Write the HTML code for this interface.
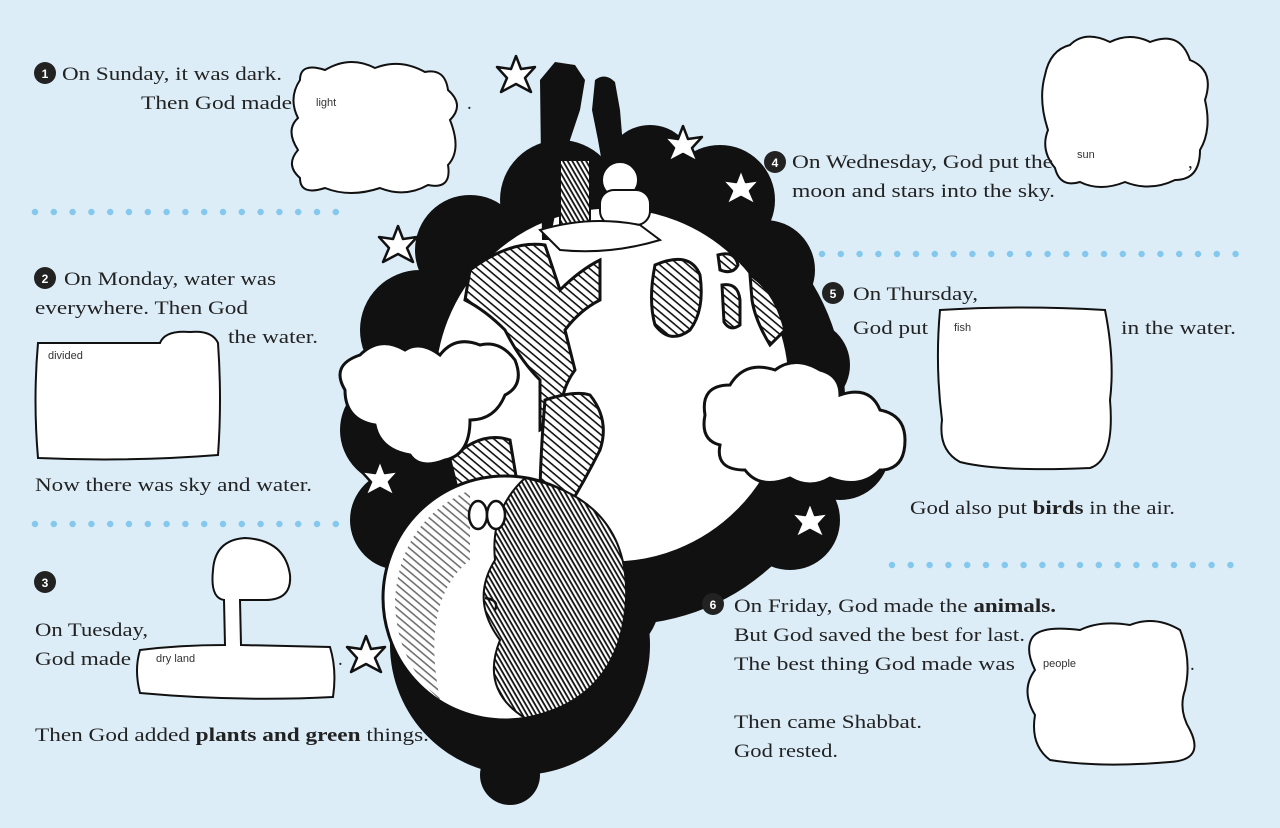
<!DOCTYPE html>
<html><head><meta charset="utf-8"><style>
html,body{margin:0;padding:0;background:#dcedf8;}
svg{display:block}
text{font-family:"Liberation Serif",serif;fill:#222;}
.s{font-family:"Liberation Sans",sans-serif;font-size:11px;fill:#333}
</style></head><body>
<svg width="1280" height="828" viewBox="0 0 1280 828" xmlns="http://www.w3.org/2000/svg">
<defs>
<pattern id="h" width="6" height="6" patternUnits="userSpaceOnUse" patternTransform="rotate(40)"><rect width="6" height="6" fill="#fff"/><rect width="6" height="1.6" fill="#111"/></pattern>
<pattern id="hd" width="4" height="4" patternUnits="userSpaceOnUse" patternTransform="rotate(60)"><rect width="4" height="4" fill="#fff"/><rect width="4" height="1.8" fill="#111"/></pattern>
<g id="star"><polygon points="0,-20 5,-7 19,-9 9,2 15,16 0,8 -15,16 -9,2 -19,-9 -5,-7" fill="#fff" stroke="#111" stroke-width="2.5" stroke-linejoin="round"/></g>
<g id="num"><circle r="11" fill="#222"/></g>
</defs>
<rect width="1280" height="828" fill="#dcedf8"/>

<line x1="35" y1="212" x2="340" y2="212" stroke="#85c8ee" stroke-width="6.5" stroke-linecap="round" stroke-dasharray="0 18.8"/>
<line x1="35" y1="524" x2="340" y2="524" stroke="#85c8ee" stroke-width="6.5" stroke-linecap="round" stroke-dasharray="0 18.8"/>
<line x1="822" y1="254" x2="1245" y2="254" stroke="#85c8ee" stroke-width="6.5" stroke-linecap="round" stroke-dasharray="0 18.8"/>
<line x1="892" y1="565" x2="1245" y2="565" stroke="#85c8ee" stroke-width="6.5" stroke-linecap="round" stroke-dasharray="0 18.8"/>

<g fill="#111">
<circle cx="560" cy="200" r="60"/><circle cx="650" cy="170" r="45"/><circle cx="720" cy="200" r="55"/>
<circle cx="470" cy="250" r="55"/><circle cx="765" cy="270" r="50"/><circle cx="420" cy="330" r="60"/>
<circle cx="805" cy="365" r="45"/><circle cx="395" cy="430" r="55"/><circle cx="840" cy="450" r="50"/>
<circle cx="400" cy="520" r="50"/><circle cx="790" cy="520" r="50"/>
<circle cx="620" cy="400" r="225"/><circle cx="520" cy="645" r="130"/><circle cx="600" cy="600" r="60"/>
<circle cx="510" cy="775" r="30"/>
</g>

<circle cx="612" cy="385" r="178" fill="#fff" stroke="#111" stroke-width="3"/>
<path d="M470 270 Q510 240 545 245 L560 290 Q580 270 600 260 L600 300 Q580 310 565 330 L575 370 Q560 390 560 420 L540 430 L540 380 Q520 360 505 330 Q485 310 465 300 Z" fill="url(#h)" stroke="#111" stroke-width="3"/>
<path d="M545 400 Q575 390 590 395 Q610 420 600 450 Q580 490 560 520 L540 500 Q540 460 545 400 Z" fill="url(#h)" stroke="#111" stroke-width="3"/>
<path d="M655 265 Q690 250 700 275 Q705 310 690 330 Q670 345 655 325 Q648 300 655 265 Z" fill="url(#h)" stroke="#111" stroke-width="3"/>
<path d="M718 255 Q735 250 738 265 Q733 275 720 270 Z M722 285 Q738 282 740 300 L740 325 Q730 332 724 322 Z" fill="url(#h)" stroke="#111" stroke-width="3"/>
<path d="M750 275 Q775 290 785 330 L770 345 Q755 320 752 300 Z" fill="url(#h)" stroke="#111" stroke-width="3"/>
<path d="M450 460 Q480 430 510 440 L520 500 Q490 500 460 500 Z" fill="url(#h)" stroke="#111" stroke-width="3"/>

<path d="M345 390 Q330 365 360 355 Q380 335 405 350 Q420 340 440 355 Q455 335 480 345 Q500 340 515 360 Q525 385 505 395 Q495 420 470 420 Q470 455 445 460 Q420 470 410 455 Q380 450 375 425 Q345 420 345 390 Z" fill="#fff" stroke="#111" stroke-width="3"/>
<path d="M705 415 Q700 385 730 385 Q745 360 775 370 Q795 355 820 370 Q840 375 840 395 Q870 385 880 410 Q905 415 905 440 Q905 470 880 470 Q860 490 830 478 Q810 490 790 478 Q760 490 745 470 Q715 470 720 445 Q700 440 705 415 Z" fill="#fff" stroke="#111" stroke-width="3"/>

<g fill="#111">
<path d="M540 80 L555 62 L575 65 L585 80 L580 110 L570 140 L560 190 L550 240 L542 240 Z"/>
<path d="M595 80 Q605 72 615 82 L620 110 L625 170 L605 180 L598 140 L592 110 Z"/>
<rect x="560" y="160" width="30" height="80" fill="url(#hd)" stroke="#111" stroke-width="2"/>
<circle cx="620" cy="180" r="18" fill="#fff" stroke="#111" stroke-width="2"/>
<rect x="600" y="190" width="50" height="35" rx="14" fill="#fff" stroke="#111" stroke-width="2"/>
</g>
<path d="M540 230 Q590 215 640 225 L660 240 Q610 255 560 250 Z" fill="#fff" stroke="#111" stroke-width="2"/>

<circle cx="505" cy="598" r="122" fill="#fff" stroke="#111" stroke-width="3"/>
<path d="M525 478 Q630 500 626 600 Q620 700 525 718 Q480 690 500 640 Q470 600 495 560 Q490 510 525 478 Z" fill="url(#hd)" stroke="#111" stroke-width="2"/>
<path d="M395 600 Q400 520 470 490 L470 560 Q420 600 440 700 Q395 660 395 600 Z" fill="url(#h)" opacity="0.6"/>
<ellipse cx="478" cy="515" rx="9" ry="14" fill="#fff" stroke="#111" stroke-width="2.5"/>
<ellipse cx="496" cy="515" rx="9" ry="14" fill="#fff" stroke="#111" stroke-width="2.5"/>
<path d="M485 598 Q500 600 495 610" fill="none" stroke="#111" stroke-width="2.5"/>

<use href="#star" transform="translate(516,76)"/>
<use href="#star" transform="translate(398,246)"/>
<use href="#star" transform="translate(683,146)"/>
<use href="#star" transform="translate(741,189)"/>
<use href="#star" transform="translate(380,480)"/>
<use href="#star" transform="translate(810,522)"/>
<use href="#star" transform="translate(366,656)"/>

<path d="M300 80 Q300 62 325 70 Q350 55 375 68 Q400 58 425 72 Q445 68 448 90 Q465 105 450 120 Q462 150 448 165 Q452 190 428 185 Q405 198 380 188 Q350 198 325 188 Q300 196 300 178 Q285 165 298 150 Q285 130 298 118 Q288 98 300 80 Z" fill="#fff" stroke="#111" stroke-width="2"/>
<path d="M1045 75 Q1050 50 1070 45 Q1085 30 1110 42 Q1130 32 1150 42 Q1180 30 1190 60 Q1215 70 1205 100 Q1212 130 1200 150 Q1200 180 1175 180 Q1150 192 1125 182 Q1100 192 1080 182 Q1060 188 1055 168 Q1040 150 1048 130 Q1038 100 1045 75 Z" fill="#fff" stroke="#111" stroke-width="2"/>
<path d="M38 343 L160 343 Q165 330 190 332 Q212 330 218 343 Q222 400 218 455 Q130 462 38 458 Q33 400 38 343 Z" fill="#fff" stroke="#111" stroke-width="2"/>
<path d="M225 645 L224 600 Q210 598 213 570 Q215 540 245 538 Q285 540 290 575 Q292 600 265 600 L240 600 L241 645 L330 647 Q337 670 333 697 Q240 702 140 693 Q134 670 140 650 Q180 645 225 645 Z" fill="#fff" stroke="#111" stroke-width="2"/>
<path d="M940 310 Q1020 305 1105 310 Q1115 360 1110 400 Q1115 460 1090 468 Q1000 472 960 462 Q938 450 942 420 Q935 365 940 310 Z" fill="#fff" stroke="#111" stroke-width="2"/>
<path d="M1032 638 Q1040 625 1080 630 Q1100 620 1130 625 Q1155 615 1180 630 Q1192 660 1185 690 Q1178 710 1190 730 Q1205 760 1170 762 Q1100 768 1050 760 Q1030 745 1035 715 Q1020 690 1035 670 Q1025 650 1032 638 Z" fill="#fff" stroke="#111" stroke-width="2"/>

<text class="s" x="316" y="106">light</text>
<text class="s" x="1077" y="158">sun</text>
<text class="s" x="48" y="359">divided</text>
<text class="s" x="156" y="662">dry land</text>
<text class="s" x="954" y="331">fish</text>
<text class="s" x="1043" y="667">people</text>

<use href="#num" transform="translate(45,73)"/><text x="45" y="78" font-size="12" font-weight="bold" text-anchor="middle" style="fill:#fff;font-family:'Liberation Sans'">1</text>
<use href="#num" transform="translate(45,278)"/><text x="45" y="283" font-size="12" font-weight="bold" text-anchor="middle" style="fill:#fff;font-family:'Liberation Sans'">2</text>
<use href="#num" transform="translate(45,582)"/><text x="45" y="587" font-size="12" font-weight="bold" text-anchor="middle" style="fill:#fff;font-family:'Liberation Sans'">3</text>
<use href="#num" transform="translate(775,162)"/><text x="775" y="167" font-size="12" font-weight="bold" text-anchor="middle" style="fill:#fff;font-family:'Liberation Sans'">4</text>
<use href="#num" transform="translate(833,293)"/><text x="833" y="298" font-size="12" font-weight="bold" text-anchor="middle" style="fill:#fff;font-family:'Liberation Sans'">5</text>
<use href="#num" transform="translate(713,604)"/><text x="713" y="609" font-size="12" font-weight="bold" text-anchor="middle" style="fill:#fff;font-family:'Liberation Sans'">6</text>

<g font-size="19">
<text x="62" y="80" textLength="220" lengthAdjust="spacingAndGlyphs">On Sunday, it was dark.</text>
<text x="141" y="109" textLength="151" lengthAdjust="spacingAndGlyphs">Then God made</text>
<text x="467" y="109">.</text>
<text x="64" y="285" textLength="212" lengthAdjust="spacingAndGlyphs">On Monday, water was</text>
<text x="35" y="314" textLength="213" lengthAdjust="spacingAndGlyphs">everywhere. Then God</text>
<text x="228" y="343" textLength="90" lengthAdjust="spacingAndGlyphs">the water.</text>
<text x="35" y="491" textLength="277" lengthAdjust="spacingAndGlyphs">Now there was sky and water.</text>
<text x="35" y="636" textLength="113" lengthAdjust="spacingAndGlyphs">On Tuesday,</text>
<text x="35" y="665" textLength="96" lengthAdjust="spacingAndGlyphs">God made</text>
<text x="338" y="665">.</text>
<text x="35" y="741" textLength="394" lengthAdjust="spacingAndGlyphs">Then God added <tspan font-weight="bold">plants and green</tspan> things.</text>
<text x="792" y="168" textLength="261" lengthAdjust="spacingAndGlyphs">On Wednesday, God put the</text>
<text x="1188" y="168">,</text>
<text x="792" y="197" textLength="263" lengthAdjust="spacingAndGlyphs">moon and stars into the sky.</text>
<text x="853" y="300" textLength="125" lengthAdjust="spacingAndGlyphs">On Thursday,</text>
<text x="853" y="334" textLength="75" lengthAdjust="spacingAndGlyphs">God put</text>
<text x="1121" y="334" textLength="115" lengthAdjust="spacingAndGlyphs">in the water.</text>
<text x="910" y="514" textLength="265" lengthAdjust="spacingAndGlyphs">God also put <tspan font-weight="bold">birds</tspan> in the air.</text>
<text x="734" y="612" textLength="322" lengthAdjust="spacingAndGlyphs">On Friday, God made the <tspan font-weight="bold">animals.</tspan></text>
<text x="734" y="641" textLength="291" lengthAdjust="spacingAndGlyphs">But God saved the  best for last.</text>
<text x="734" y="670" textLength="281" lengthAdjust="spacingAndGlyphs">The best thing God made was</text>
<text x="1190" y="670">.</text>
<text x="734" y="728" textLength="188" lengthAdjust="spacingAndGlyphs">Then came Shabbat.</text>
<text x="734" y="757" textLength="104" lengthAdjust="spacingAndGlyphs">God rested.</text>
</g>
</svg>
</body></html>
